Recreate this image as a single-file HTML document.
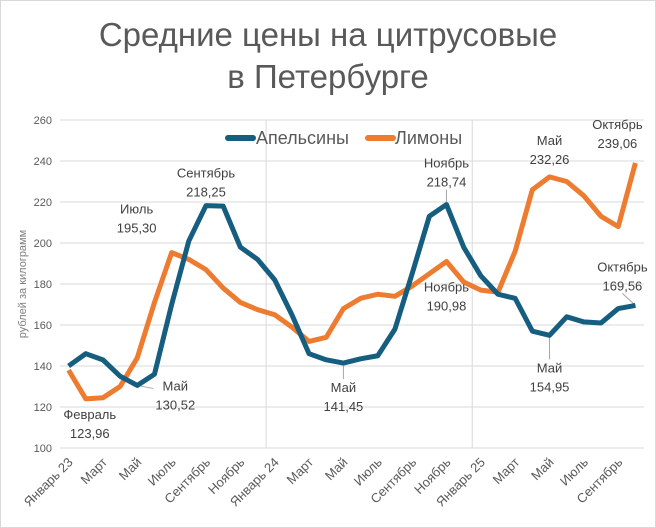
<!DOCTYPE html>
<html><head><meta charset="utf-8"><style>
body{margin:0;background:#fff}
svg{display:block;font-family:"Liberation Sans","DejaVu Sans",sans-serif}
</style></head><body>
<svg id="chart" width="656" height="528" viewBox="0 0 656 528">
<rect x="0.5" y="0.5" width="655" height="527" fill="#fff" stroke="#d9d9d9"/>
<text x="328" y="46" text-anchor="middle" font-size="33" fill="#595959">Средние цены на цитрусовые</text>
<text x="328" y="88" text-anchor="middle" font-size="33" fill="#595959">в Петербурге</text>
<text transform="translate(26,284) rotate(-90)" text-anchor="middle" font-size="11" fill="#7f7f7f">рублей за килограмм</text>
<g id="grid"></g><g id="xt"></g><g id="yt"></g><g id="lead"></g><g id="lines"></g><g id="labels"></g>
<g>
<line x1="228" y1="138" x2="253" y2="138" stroke="#165e7f" stroke-width="6" stroke-linecap="round"/>
<text x="256" y="144" font-size="18" fill="#595959">Апельсины</text>
<line x1="368" y1="138" x2="393" y2="138" stroke="#ed7b30" stroke-width="6" stroke-linecap="round"/>
<text x="395" y="144" font-size="18" fill="#595959">Лимоны</text>
</g>
</svg>
<script>
const months=["Январь 23","Февраль","Март","Апрель","Май","Июнь","Июль","Август","Сентябрь","Октябрь","Ноябрь","Декабрь","Январь 24","Февраль","Март","Апрель","Май","Июнь","Июль","Август","Сентябрь","Октябрь","Ноябрь","Декабрь","Январь 25","Февраль","Март","Апрель","Май","Июнь","Июль","Август","Сентябрь","Октябрь"];
const oranges=[140,146,143,135,130.52,136,170,201,218.25,218,198,192,182,165,146,143,141.45,143.5,145,158,185,213,218.74,198,184,175,173,157,154.95,164,161.5,161,168,169.56];
const lemons=[138,123.96,124.5,130,144,171,195.30,192,187,178,171,167.5,165,159,152,154,168,173,175,174,179,185,190.98,181,177,176,196,226,232.26,230,223,213,208,239.06];
const yTicks=[100,120,140,160,180,200,220,240,260];
const NS="http://www.w3.org/2000/svg";
const L=60,R=644,T=120,B=448,n=months.length,w=(R-L)/n;
const xs=i=>L+w*(i+0.5), ys=v=>B-(v-100)/160*(B-T);
function el(t,a,p){const e=document.createElementNS(NS,t);for(const k in a)e.setAttribute(k,a[k]);document.getElementById(p).appendChild(e);return e;}
yTicks.forEach(v=>{
 const g=el("line",{x1:L,x2:R,y1:ys(v),y2:ys(v),stroke:"#d9d9d9","stroke-width":1},"grid");
 
 
 const t=el("text",{x:L-8,y:ys(v)+4,"text-anchor":"end","font-size":11,fill:"#595959"},"yt");
 t.textContent=v;
 
 
});
[12,24].forEach(i=>{
 const g=el("line",{x1:L+w*i,x2:L+w*i,y1:T,y2:B,stroke:"#d9d9d9","stroke-width":1},"grid");
 
 
});
months.forEach((m,i)=>{
 if(i%2)return;
 const x=xs(i)+5,y=B+15;
 const t=el("text",{x:x,y:y,"text-anchor":"end","font-size":13,fill:"#595959",transform:`rotate(-45 ${x} ${y})`},"xt");
 t.textContent=m;
 
 
});
[[lemons,"#ed7b30","lemons-line"],[oranges,"#165e7f","oranges-line"]].forEach(([d,c,nm])=>{
 const p=el("polyline",{points:d.map((v,i)=>xs(i)+","+ys(v)).join(" "),fill:"none",stroke:c,"stroke-width":5,"stroke-linejoin":"round"},"lines");
 
 
});
// [series, index, month, dx, dy, leader]
const ann=[[oranges,4,"Май",38,-7,1],[oranges,8,"Сентябрь",0,-40,0],[oranges,16,"Май",0,17,1],[oranges,22,"Ноябрь",0,-49,1],[oranges,28,"Май",0,25,1],[oranges,33,"Октябрь",-13,-46,1],
[lemons,1,"Февраль",4,8,0],[lemons,6,"Июль",-35,-51,0],[lemons,22,"Ноябрь",0,18,0],[lemons,28,"Май",0,-44,0],[lemons,33,"Октябрь",-18,-46,0]];
ann.forEach(([d,i,m,dx,dy,ld])=>{
 const px=xs(i),py=ys(d[i]);
 const x=px+dx,y=py+dy;
 if(ld){
  const ly=dy>0?y-1:y+34;
  const l=el("line",{x1:px,y1:py,x2:dx>20?x-22:x,y2:dx>20?y+10:ly,stroke:"#a6a6a6","stroke-width":1},"lead");
  
  
 }
 const t=el("text",{x:x,y:y+12,"text-anchor":"middle","font-size":13,fill:"#404040"},"labels");
 t.textContent=m;
 
 
 const v=el("text",{x:x,y:y+31,"text-anchor":"middle","font-size":13,fill:"#404040"},"labels");
 v.textContent=d[i].toFixed(2).replace(".",",");
 
 
});
</script>
</body></html>
